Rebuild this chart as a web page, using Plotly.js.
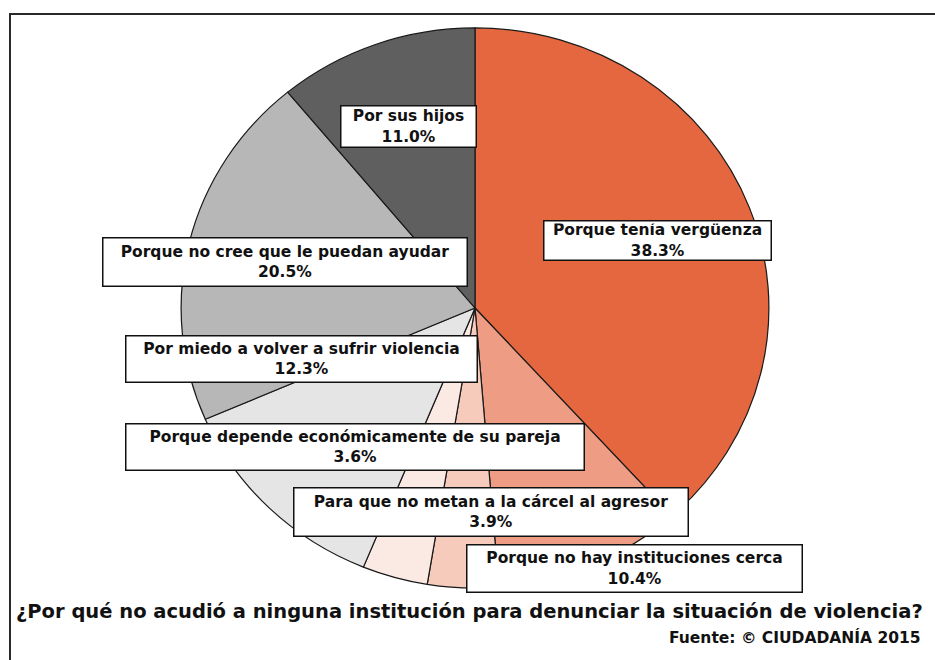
<!DOCTYPE html>
<html>
<head>
<meta charset="utf-8">
<script src="https://cdn.plot.ly/plotly-3.0.1.min.js"></script>
<style>
  html, body { margin: 0; padding: 0; background: #ffffff; }
  #wrap { position: relative; width: 935px; height: 660px; overflow: hidden; }
  #pie, #labels { position: absolute; left: 0; top: 0; width: 935px; height: 660px; }
  /* the reference pie is slightly elliptical (wider than tall) */
  #pie { transform-origin: 475px 308px; transform: scale(1.024, 0.976); }
</style>
</head>
<body>
<div id="wrap">
  <div id="pie"></div>
  <div id="labels"></div>
</div>
<script>
// ---- data ----
const categories = [
  "Porque tenía vergüenza",
  "Porque no hay instituciones cerca",
  "Para que no metan a la cárcel al agresor",
  "Porque depende económicamente de su pareja",
  "Por miedo a volver a sufrir violencia",
  "Porque no cree que le puedan ayudar",
  "Por sus hijos"
];
const percentages = [38.3, 10.4, 3.9, 3.6, 12.3, 20.5, 11.0];
const titleText = "¿Por qué no acudió a ninguna institución para denunciar la situación de violencia?";
const sourceText = "Fuente: © CIUDADANÍA 2015";

// ---- styling ----
const sliceColors = ["#E5673F", "#EE9C83", "#F6CBBC", "#FBEAE4", "#E5E5E5", "#B7B7B7", "#5F5F5F"];
const W = 935, H = 660;
const cx = 475, cy = 308, R = 287;

// label box layout (pixel centre, box width, box height), same order as categories
const boxLayout = [
  {x: 657, y: 240, w: 229, h: 41},
  {x: 634, y: 568, w: 337, h: 49},
  {x: 491, y: 512, w: 396, h: 50},
  {x: 355, y: 447, w: 460, h: 48},
  {x: 301, y: 359, w: 353, h: 48},
  {x: 285, y: 262, w: 366, h: 50},
  {x: 408, y: 127, w: 137, h: 43}
];

const labelFont = {family: "DejaVu Sans", size: 15.5, color: "#111"};
const pad = 2, bw = 1.5;

const annotations = categories.map((c, i) => ({
  xref: "paper", yref: "paper",
  x: boxLayout[i].x / W, y: 1 - boxLayout[i].y / H,
  xanchor: "center", yanchor: "middle",
  text: "<b>" + c + "</b><br><b>" + percentages[i].toFixed(1) + "%</b>",
  showarrow: false,
  align: "center",
  valign: "middle",
  font: labelFont,
  bgcolor: "#ffffff",
  bordercolor: "#111111",
  borderwidth: bw,
  borderpad: pad,
  width: boxLayout[i].w - 2 * pad - 2 * bw,
  height: boxLayout[i].h - 2 * pad - 2 * bw
}));

annotations.push({
  xref: "paper", yref: "paper",
  x: 923 / W, y: 1 - 637 / H,
  xanchor: "right", yanchor: "middle",
  text: "<b>" + sourceText + "</b>",
  showarrow: false,
  font: {family: "DejaVu Sans", size: 15.5, color: "#111"}
});

const trace = {
  type: "pie",
  labels: categories,
  values: percentages,
  sort: false,
  direction: "clockwise",
  rotation: 0,
  textinfo: "none",
  hoverinfo: "label+percent",
  marker: {colors: sliceColors, line: {color: "#1a1a1a", width: 1.2}},
  domain: {
    x: [(cx - R) / W, (cx + R) / W],
    y: [(H - cy - R) / H, (H - cy + R) / H]
  },
  showlegend: false
};

const pieLayout = {
  width: W, height: H,
  margin: {l: 0, r: 0, t: 0, b: 0},
  paper_bgcolor: "#ffffff",
  plot_bgcolor: "#ffffff",
  showlegend: false
};

const labelLayout = {
  width: W, height: H,
  margin: {l: 0, r: 0, t: 0, b: 0},
  paper_bgcolor: "rgba(0,0,0,0)",
  plot_bgcolor: "rgba(0,0,0,0)",
  showlegend: false,
  xaxis: {visible: false}, yaxis: {visible: false},
  title: {
    text: "<b>" + titleText + "</b>",
    font: {family: "DejaVu Sans", size: 19.5, color: "#111"},
    xref: "paper", yref: "paper",
    x: 16 / W, xanchor: "left",
    y: 1 - 611 / H, yanchor: "middle"
  },
  annotations: annotations,
  shapes: [{
    type: "rect", xref: "paper", yref: "paper",
    x0: 10 / W, x1: 1.02, y0: -0.02, y1: 1 - 14 / H,
    line: {color: "#2a2a2a", width: 2},
    fillcolor: "rgba(0,0,0,0)",
    layer: "above"
  }]
};

Plotly.newPlot("pie", [trace], pieLayout, {displayModeBar: false, staticPlot: true});
Plotly.newPlot("labels", [], labelLayout, {displayModeBar: false, staticPlot: true});
</script>
</body>
</html>
